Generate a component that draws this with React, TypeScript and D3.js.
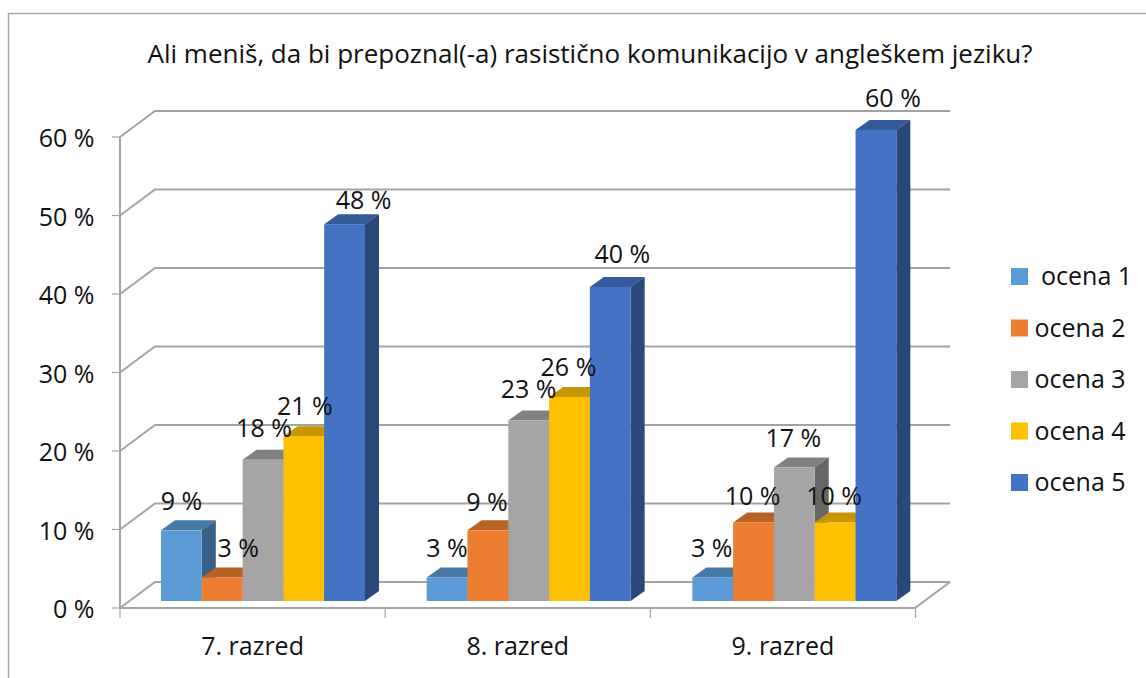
import React from 'react';
import * as d3 from 'd3';

const title = 'Ali meniš, da bi prepoznal(-a) rasistično komunikacijo v angleškem jeziku?';
const categories = ['7. razred', '8. razred', '9. razred'];
const seriesNames = ['ocena 1', 'ocena 2', 'ocena 3', 'ocena 4', 'ocena 5'];
const ocena1 = [9, 3, 3];
const ocena2 = [3, 9, 10];
const ocena3 = [18, 23, 17];
const ocena4 = [21, 26, 10];
const ocena5 = [48, 40, 60];
const allSeries = [ocena1, ocena2, ocena3, ocena4, ocena5];
const yTicks = [0, 10, 20, 30, 40, 50, 60];
const colors = ['#5B9BD5', '#ED7D31', '#A5A5A5', '#FFC000', '#4472C4'];

// hand tuned label nudges from the default spot, [dx, dy] per series per category
const labelNudge = [
  [[0, 0], [0, 0], [-1, 0]],
  [[16, 0], [-1, 1], [-1, 2]],
  [[1, -3], [0, -2], [-1, -1]],
  [[1, -1], [-1, -1], [-1, 2]],
  [[19, 5], [12, -4], [17, -3]],
];

const font = '"Open Sans", sans-serif';
const grid = '#a3a3a3';
const fontSize = 25;

export default function App() {
  const x0 = d3.scaleBand<string>().domain(categories).range([120, 915.5]);
  // bars step a touch wider than the axis ticks in the original
  const xBars = d3.scaleBand<string>().domain(categories).range([120, 917]);
  const inner = d3.scaleBand<string>().domain(seriesNames).range([41, 245]);
  // axis scale sits on the front of the floor, bars sit a little behind it
  const yAxis = d3.scaleLinear().domain([0, 60]).range([608, 137]);
  const yBar = d3.scaleLinear().domain([0, 60]).range([601, 130]);
  const depth = { x: 35, y: -26 };
  const barDepth = { x: 14, y: -10 };
  const line = d3.line();

  const poly = (pts: [number, number][]) => line(pts) + 'Z';

  return (
    <svg width={1146} height={678} style={{ position: 'absolute', left: 0, top: 0, display: 'block' }}>
      <rect width={1146} height={678} fill="#fff" />
      <path d="M8.5,678V13.5H1146" fill="none" stroke="#a6a6a6" strokeWidth={1.5} />
      <text x={590} y={63} textAnchor="middle" fontFamily={font} fontSize={26} fill="#111">{title}</text>

      {/* walls and floor */}
      <g fill="none" stroke={grid} strokeWidth={2}>
        {yTicks.map(t => (
          <path key={t} d={line([
            [120, yAxis(t)],
            [120 + depth.x, yAxis(t) + depth.y],
            [915 + depth.x, yAxis(t) + depth.y],
          ]) as string} />
        ))}
        <path d={line([[120, yAxis(0)], [915, yAxis(0)], [915 + depth.x, yAxis(0) + depth.y]]) as string} />
        <path d={line([[120, yAxis(60)], [120, yAxis(0)]]) as string} />
      </g>

      {/* axis ticks */}
      <g stroke={grid} strokeWidth={1.2}>
        {yTicks.map(t => <line key={t} x1={112} x2={120} y1={yAxis(t)} y2={yAxis(t)} />)}
        {[...categories.map(c => x0(c) as number), 915.5].map(v => (
          <line key={v} x1={v} x2={v} y1={608} y2={618} />
        ))}
      </g>

      <g fontFamily={font} fontSize={fontSize} fill="#111">
        {yTicks.map(t => (
          <text key={t} x={94.5} y={yAxis(t) + 10} textAnchor="end">{t} %</text>
        ))}
        {categories.map(c => (
          <text key={c} x={(x0(c) as number) + x0.bandwidth() / 2} y={655} textAnchor="middle">{c}</text>
        ))}
      </g>

      {/* bars, drawn left to right so each one overlaps the side of the last */}
      {categories.map((c, ci) => (
        <g key={c}>
          {seriesNames.map((s, si) => {
            const left = (xBars(c) as number) + (inner(s) as number);
            const right = left + inner.bandwidth();
            const top = yBar(allSeries[si][ci]);
            const base = yBar(0);
            const col = d3.rgb(colors[si]);
            const shade = (k: number) => d3.rgb(col.r * k, col.g * k, col.b * k).formatHex();
            return (
              <g key={s}>
                <path fill={shade(0.78)} d={poly([
                  [left, top], [right, top],
                  [right + barDepth.x, top + barDepth.y], [left + barDepth.x, top + barDepth.y],
                ])} />
                <path fill={shade(0.62)} d={poly([
                  [right, top], [right + barDepth.x, top + barDepth.y],
                  [right + barDepth.x, base + barDepth.y], [right, base],
                ])} />
                <rect x={left} y={top} width={inner.bandwidth()} height={base - top} fill={colors[si]} />
              </g>
            );
          })}
        </g>
      ))}

      {/* data labels */}
      <g fontFamily={font} fontSize={fontSize} fill="#111" textAnchor="middle">
        {categories.map((c, ci) => seriesNames.map((s, si) => {
          const v = allSeries[si][ci];
          const [dx, dy] = labelNudge[si][ci];
          const cx = (xBars(c) as number) + (inner(s) as number) + inner.bandwidth() / 2;
          return <text key={c + s} x={cx + dx} y={yBar(v) - 20 + dy}>{v} %</text>;
        }))}
      </g>

      {/* legend */}
      <g fontFamily={font} fontSize={fontSize} fill="#111">
        {seriesNames.map((s, i) => {
          const y = 268 + i * 51.5;
          return (
            <g key={s}>
              <rect x={1011} y={y} width={17} height={17} fill={colors[i]} />
              <text x={i === 0 ? 1041 : 1034.5} y={y + 17}>{s}</text>
            </g>
          );
        })}
      </g>
    </svg>
  );
}
